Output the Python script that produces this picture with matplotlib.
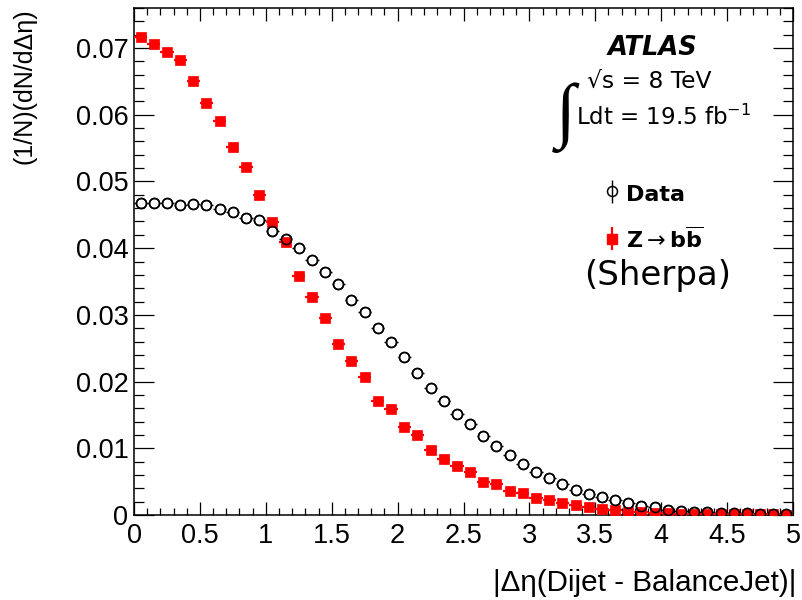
import numpy as np
import matplotlib
matplotlib.use("Agg")
import matplotlib.pyplot as plt
from matplotlib.ticker import MultipleLocator, FuncFormatter

# bin centres of |delta eta|, bin width 0.1
eta_centres = [0.05, 0.15, 0.25, 0.35, 0.45, 0.55, 0.65, 0.75, 0.85, 0.95,
               1.05, 1.15, 1.25, 1.35, 1.45, 1.55, 1.65, 1.75, 1.85, 1.95,
               2.05, 2.15, 2.25, 2.35, 2.45, 2.55, 2.65, 2.75, 2.85, 2.95,
               3.05, 3.15, 3.25, 3.35, 3.45, 3.55, 3.65, 3.75, 3.85, 3.95,
               4.05, 4.15, 4.25, 4.35, 4.45, 4.55, 4.65, 4.75, 4.85, 4.95]
bin_half_width = 0.05

data_vals = [0.0467, 0.0468, 0.0467, 0.0465, 0.0466, 0.0465, 0.0459, 0.0454, 0.0445, 0.0442,
             0.0426, 0.0413, 0.0400, 0.0382, 0.0365, 0.0346, 0.0323, 0.0304, 0.0281, 0.0259,
             0.0237, 0.0213, 0.0191, 0.0171, 0.0152, 0.0136, 0.0118, 0.0103, 0.0090, 0.0077,
             0.0065, 0.0055, 0.0046, 0.00375, 0.00315, 0.00265, 0.00225, 0.00175, 0.0014, 0.00115,
             0.00075, 0.0006, 0.0005, 0.0004, 0.00035, 0.0003, 0.00025, 0.0002, 0.0002, 0.00015]

sherpa_vals = [0.0716, 0.0706, 0.0694, 0.0682, 0.0650, 0.0617, 0.0590, 0.0552, 0.0521, 0.0479,
               0.0439, 0.0409, 0.0358, 0.0327, 0.0296, 0.0257, 0.0231, 0.0207, 0.0171, 0.0159,
               0.0132, 0.0120, 0.00975, 0.00835, 0.0074, 0.00645, 0.0050, 0.0047, 0.0036, 0.00325,
               0.0026, 0.00225, 0.00175, 0.0015, 0.00125, 0.00085, 0.00075, 0.0005, 0.0004, 0.0003,
               0.00025, 0.0002, 0.00018, 0.00015, 0.00012, 0.0001, 0.0001, 0.00008, 0.00008, 0.00006]

x = np.array(eta_centres)
xerr = np.full(len(x), bin_half_width)

fig = plt.figure(figsize=(8.02, 6.0), dpi=100)
ax = fig.add_axes([134 / 802, 1 - 515 / 600, 659 / 802, 507 / 600])

tick_font = "Liberation Sans"
latex_font = "DejaVu Sans"

# data: error bars + white body first, sherpa on top, then hollow outlines
ax.errorbar(x, data_vals, xerr=xerr, fmt='o', ms=7.2, mfc='white', mec='black',
            mew=1.1, ecolor='black', elinewidth=1.0, capsize=0, zorder=2)
ax.errorbar(x, sherpa_vals, xerr=xerr, fmt='s', ms=7.0, mfc='red', mec='red',
            mew=0.5, ecolor='red', elinewidth=1.6, capsize=0, zorder=3)
ax.plot(x, data_vals, 'o', ms=7.2, mfc='none', mec='black', mew=1.1, zorder=4)

ax.set_xlim(0, 5)
ax.set_ylim(0, 0.076)

ax.xaxis.set_major_locator(MultipleLocator(0.5))
ax.xaxis.set_minor_locator(MultipleLocator(0.1))
ax.yaxis.set_major_locator(MultipleLocator(0.01))
ax.yaxis.set_minor_locator(MultipleLocator(0.002))
ax.xaxis.set_major_formatter(FuncFormatter(lambda v, p: f"{v:g}"))
ax.yaxis.set_major_formatter(FuncFormatter(lambda v, p: "0" if abs(v) < 1e-9 else f"{v:.2f}"))

ax.tick_params(which='both', direction='in', top=True, right=True, width=0.9)
ax.tick_params(axis='x', which='major', length=9.5, pad=6)
ax.tick_params(axis='x', which='minor', length=5)
ax.tick_params(axis='y', which='major', length=14.5, pad=4)
ax.tick_params(axis='y', which='minor', length=7.5)
for lab in ax.get_xticklabels() + ax.get_yticklabels():
    lab.set_fontfamily(tick_font)
    lab.set_fontsize(19.5)
for sp in ax.spines.values():
    sp.set_linewidth(1.1)

fig.text(25 / 802, 1 - 8 / 600, "(1/N)(dN/d\u0394\u03b7)", rotation=90,
         ha='center', va='top', fontsize=18, fontfamily=tick_font)
fig.text(796 / 802, 1 - 583 / 600, "|\u0394\u03b7(Dijet - BalanceJet)|",
         ha='right', va='center', fontsize=21.3, fontfamily=tick_font)

# ATLAS labels
fig.text(653 / 802, 1 - 48 / 600, "ATLAS", ha='center', va='center',
         fontsize=18.5, fontweight='bold', fontstyle='italic', fontfamily=latex_font)
fig.text(587 / 802, 1 - 81 / 600, "\u221as = 8 TeV", ha='left', va='center',
         fontsize=16.8, fontfamily=latex_font)
fig.text(566 / 802, 1 - 118 / 600, "\u222b", ha='center', va='center',
         fontsize=52, fontfamily="Liberation Serif")
fig.text(576 / 802, 1 - 117 / 600, "Ldt = 19.5 fb$^{-1}$", ha='left', va='center',
         fontsize=16.5, fontfamily=latex_font)

# legend
h_data = ax.errorbar([], [], yerr=[], fmt='o', ms=7.2, mfc='none', mec='black',
                     mew=1.1, ecolor='black', elinewidth=1.0)
h_mc = ax.errorbar([], [], yerr=[], fmt='s', ms=7.0, mfc='red', mec='red',
                   ecolor='red', elinewidth=1.6)
ax.legend([h_data, h_mc], ["Data", "Z$\\rightarrow$b$\\overline{\\mathbf{b}}$"],
          loc='upper left', bbox_to_anchor=(605 / 802, 1 - 182 / 600),
          bbox_transform=fig.transFigure, frameon=False,
          prop={'family': latex_font, 'weight': 'bold', 'size': 16},
          handlelength=0.6, handleheight=1.2, handletextpad=0.33,
          labelspacing=0.97, borderpad=0, borderaxespad=0)
fig.text(658 / 802, 1 - 276 / 600, "(Sherpa)", ha='center', va='center',
         fontsize=24.5, fontfamily=latex_font)

fig.savefig("out.png", dpi=100)
